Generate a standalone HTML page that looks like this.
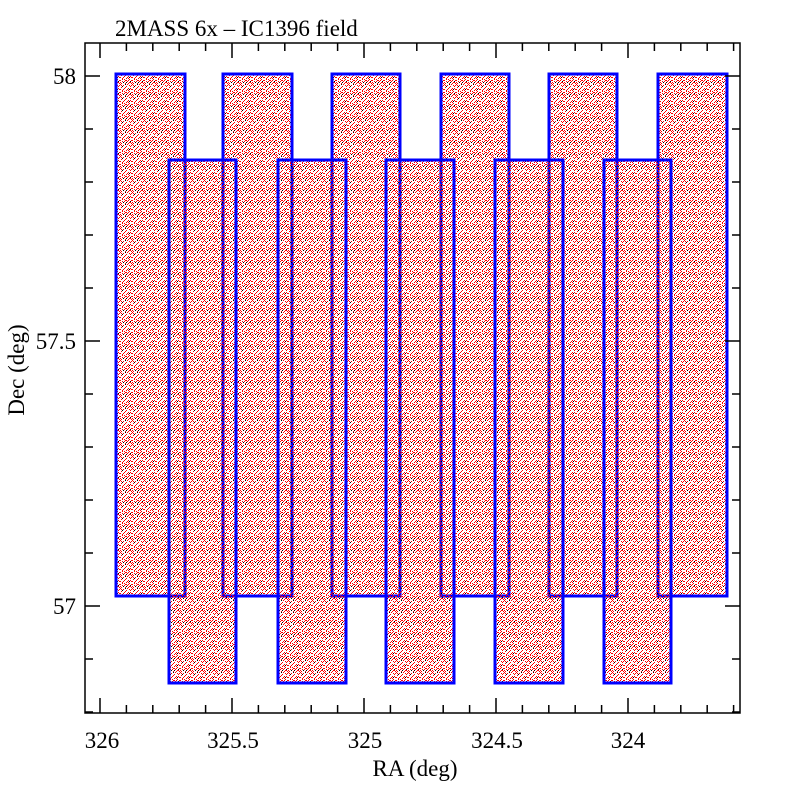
<!DOCTYPE html>
<html><head><meta charset="utf-8"><style>
html,body{margin:0;padding:0;background:#fff;width:800px;height:800px;overflow:hidden}
text{font-family:"Liberation Serif",serif;fill:#000}
</style></head><body>
<svg id="s" width="800" height="800" xmlns="http://www.w3.org/2000/svg">
<defs>
<pattern id="p" width="12" height="12" patternUnits="userSpaceOnUse">
<g fill="#f00">
<rect x="0" y="0" width="1" height="1"/><rect x="3" y="1" width="1" height="1"/><rect x="7" y="0" width="1" height="1"/><rect x="10" y="2" width="1" height="1"/>
<rect x="1" y="3" width="1" height="1"/><rect x="5" y="3" width="1" height="1"/><rect x="8" y="4" width="1" height="1"/><rect x="11" y="5" width="1" height="1"/>
<rect x="2" y="6" width="1" height="1"/><rect x="6" y="6" width="1" height="1"/><rect x="9" y="7" width="1" height="1"/><rect x="0" y="8" width="1" height="1"/>
<rect x="4" y="9" width="1" height="1"/><rect x="7" y="9" width="1" height="1"/><rect x="10" y="10" width="1" height="1"/><rect x="1" y="11" width="1" height="1"/>
<rect x="5" y="11" width="1" height="1"/><rect x="3" y="5" width="1" height="1"/><rect x="9" y="1" width="1" height="1"/><rect x="11" y="8" width="1" height="1"/>
<rect x="6" y="2" width="1" height="1"/><rect x="2" y="9" width="1" height="1"/><rect x="8" y="11" width="1" height="1"/><rect x="4" y="7" width="1" height="1"/>
<rect x="10" y="4" width="1" height="1"/><rect x="0" y="5" width="1" height="1"/><rect x="7" y="5" width="1" height="1"/><rect x="11" y="11" width="1" height="1"/>
<rect x="5" y="8" width="1" height="1"/><rect x="8" y="8" width="1" height="1"/>
<rect x="1" y="1" width="1" height="1"/><rect x="4" y="4" width="1" height="1"/><rect x="9" y="10" width="1" height="1"/><rect x="11" y="1" width="1" height="1"/>
<rect x="2" y="7" width="1" height="1"/><rect x="6" y="8" width="1" height="1"/><rect x="0" y="10" width="1" height="1"/><rect x="8" y="6" width="1" height="1"/>
</g>
<g fill="#000">
<rect x="2" y="2" width="1" height="1"/><rect x="9" y="5" width="1" height="1"/><rect x="5" y="0" width="1" height="1"/><rect x="3" y="10" width="1" height="1"/><rect x="10" y="9" width="1" height="1"/><rect x="6" y="10" width="1" height="1"/>
</g>
</pattern>
</defs>
<g id="tiles" fill="url(#p)" stroke="#0000ff" stroke-width="3"></g>
<rect x="85" y="43" width="655" height="670" fill="none" stroke="#000" stroke-width="1.5"/>
<g id="ticks" stroke="#000" stroke-width="1.5"></g>
<text x="115" y="36" font-size="23">2MASS 6x – IC1396 field</text>
<text x="415" y="776" font-size="23" text-anchor="middle">RA (deg)</text>
<text x="24" y="370" font-size="23" text-anchor="middle" transform="rotate(-90 24 370)">Dec (deg)</text>
<g font-size="23" text-anchor="middle">
<text x="102" y="748">326</text><text x="233" y="748">325.5</text><text x="365" y="748">325</text><text x="497" y="748">324.5</text><text x="628" y="748">324</text>
</g>
<g font-size="23" text-anchor="end">
<text x="76" y="84">58</text><text x="76" y="349">57.5</text><text x="76" y="614">57</text>
</g>
</svg>
<script>
var NS="http://www.w3.org/2000/svg";
function el(p,t,a){var e=document.createElementNS(NS,t);for(var k in a)e.setAttribute(k,a[k]);p.appendChild(e);}
var tg=document.getElementById("tiles");
[[116,185],[223,292],[332,400],[441,509],[549,617],[658,727]].forEach(function(r){el(tg,"rect",{x:r[0],y:74,width:r[1]-r[0],height:522});});
[[169,236],[278,346],[386,454],[495,563],[604,671]].forEach(function(r){el(tg,"rect",{x:r[0],y:160,width:r[1]-r[0],height:523});});
var g=document.getElementById("ticks");
for(var i=0;i<=24;i++){var ra=326-i*0.1;var x=100+(326-ra)*264;if(x>740)break;var L=(i%5==0)?15:8;
el(g,"line",{x1:x,y1:713,x2:x,y2:713-L});el(g,"line",{x1:x,y1:43,x2:x,y2:43+L});}
for(var j=-1;j<=12;j++){var d=58-j*0.1;var y=76+(58-d)*530;if(y<43||y>713)continue;var L=(j%5==0)?15:8;
el(g,"line",{x1:85,y1:y,x2:85+L,y2:y});el(g,"line",{x1:740,y1:y,x2:740-L,y2:y});}
</script>
</body></html>
